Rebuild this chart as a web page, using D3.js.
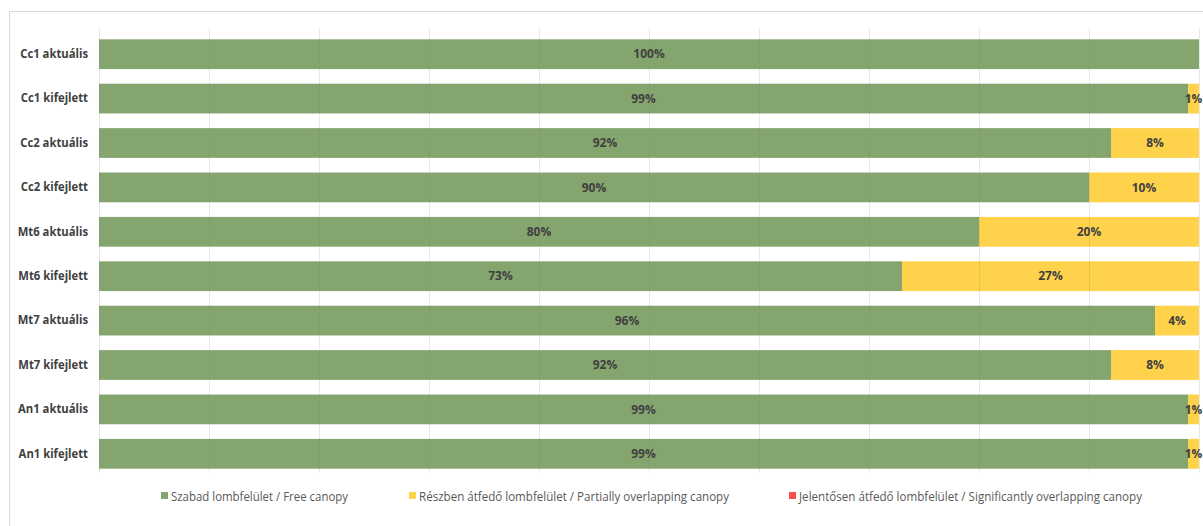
<!DOCTYPE html>
<html>
<head>
<meta charset="utf-8">
<script src="https://cdn.jsdelivr.net/npm/d3@7"></script>
<style>
  html, body { margin: 0; padding: 0; background: #fff; }
  svg { display: block; }
  text { font-family: "Liberation Sans Narrow", "Arial Narrow", "Open Sans", sans-serif; }
</style>
</head>
<body>
<svg id="chart" width="1203" height="526"></svg>
<script>
// Canopy overlap shares per stand (percent of leaf surface)
const categories = [
  "Cc1 aktuális", "Cc1 kifejlett", "Cc2 aktuális", "Cc2 kifejlett",
  "Mt6 aktuális", "Mt6 kifejlett", "Mt7 aktuális", "Mt7 kifejlett",
  "An1 aktuális", "An1 kifejlett"
];
const freeCanopy        = [100, 99, 92, 90, 80, 73, 96, 92, 99, 99];
const partialOverlap    = [0, 1, 8, 10, 20, 27, 4, 8, 1, 1];
const significantOverlap = [0, 0, 0, 0, 0, 0, 0, 0, 0, 0];
const seriesNames = [
  "Szabad lombfelület / Free canopy",
  "Részben átfedő lombfelület / Partially overlapping canopy",
  "Jelentősen átfedő lombfelület / Significantly overlapping canopy"
];
const xTicks = [0, 10, 20, 30, 40, 50, 60, 70, 80, 90, 100];

const colors = ["#85A56F", "#FFD24B", "#FF4B4B"];
const series = [freeCanopy, partialOverlap, significantOverlap];

const svg = d3.select("#chart");
const margin = { left: 99 };
const plotRight = 1199;

// chart frame
svg.append("rect")
  .attr("x", 9.5).attr("y", 11.5)
  .attr("width", 1200).attr("height", 530)
  .attr("fill", "none").attr("stroke", "#d9d9d9").attr("stroke-width", 1);

const x = d3.scaleLinear().domain([0, 100]).range([margin.left, plotRight]);
const y = d3.scaleBand().domain(categories).range([32, 476]).paddingInner(0.33).paddingOuter(0.165);

const rows = categories.map((c, i) => {
  let acc = 0;
  return series.map((s, k) => {
    const seg = { cat: c, k, v: s[i], x0: acc, x1: acc + s[i] };
    acc += s[i];
    return seg;
  });
});

// bars
const g = svg.append("g");
rows.forEach(segs => {
  segs.filter(d => d.v > 0).forEach(d => {
    g.append("rect")
      .attr("x", x(d.x0))
      .attr("y", y(d.cat))
      .attr("width", x(d.x1) - x(d.x0))
      .attr("height", y.bandwidth())
      .attr("fill", colors[d.k]);
  });
});

// vertical gridlines (drawn faintly over the bars)
svg.append("g").selectAll("line").data(xTicks).join("line")
  .attr("x1", d => Math.round(x(d)) + 0.5).attr("x2", d => Math.round(x(d)) + 0.5)
  .attr("y1", 28).attr("y2", 473)
  .attr("stroke", "#7f7f7f").attr("stroke-opacity", 0.18).attr("stroke-width", 1);

// value labels
rows.forEach(segs => {
  segs.filter(d => d.v > 0).forEach(d => {
    g.append("text")
      .attr("x", (x(d.x0) + x(d.x1)) / 2)
      .attr("y", y(d.cat) + y.bandwidth() / 2)
      .attr("dy", "0.35em")
      .attr("text-anchor", "middle")
      .attr("font-size", 12)
      .attr("font-weight", "bold")
      .attr("fill", "#404040")
      .text(d.v + "%");
  });
});

// category axis
const yAxis = svg.append("g")
  .attr("transform", `translate(${margin.left},0)`)
  .call(d3.axisLeft(y).tickSize(0).tickPadding(11));
yAxis.select(".domain").remove();
yAxis.selectAll("text")
  .attr("font-size", 12)
  .attr("font-weight", "bold")
  .attr("fill", "#404040")
  .style("font-family", '"Liberation Sans Narrow", "Arial Narrow", "Open Sans", sans-serif')
  .each(function () {
    // condense the labels slightly
    const w = this.getComputedTextLength();
    d3.select(this).attr("textLength", w * 0.94).attr("lengthAdjust", "spacingAndGlyphs");
  });

// legend
const legendItems = [
  { name: seriesNames[0], color: colors[0], x: 161, w: 177 },
  { name: seriesNames[1], color: colors[1], x: 409, w: 310 },
  { name: seriesNames[2], color: colors[2], x: 789, w: 343 }
];
const lg = svg.append("g");
legendItems.forEach(it => {
  lg.append("rect").attr("x", it.x).attr("y", 492).attr("width", 7).attr("height", 7).attr("fill", it.color);
  lg.append("text").attr("x", it.x + 10).attr("y", 496).attr("dy", "0.35em")
    .attr("font-size", 13).attr("fill", "#595959")
    .attr("textLength", it.w).attr("lengthAdjust", "spacingAndGlyphs")
    .text(it.name);
});
</script>
</body>
</html>
